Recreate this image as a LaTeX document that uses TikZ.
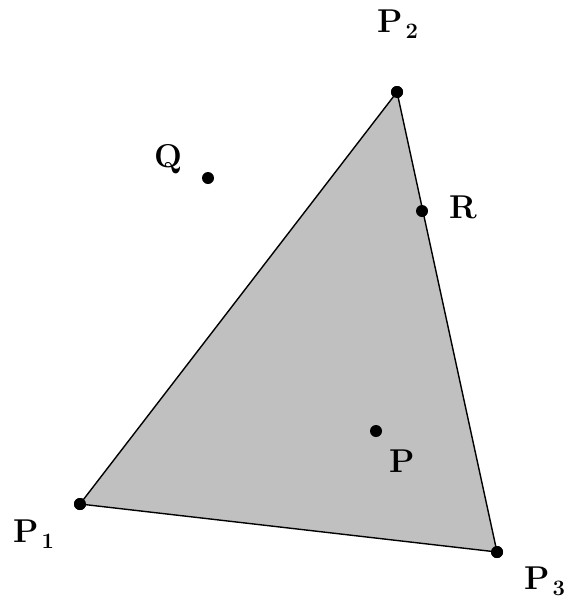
\documentclass[tikz,border=0pt]{standalone}
\usepackage{fontspec}
\setmainfont{Latin Modern Roman}
\newcommand{\subdig}[1]{\hspace{3pt}\raisebox{-6pt}{\fontsize{22}{22}\selectfont #1}}
\begin{document}
\begin{tikzpicture}[x=1pt,y=-1pt,
  pt/.style={circle,fill=black,inner sep=0pt,minimum size=12pt},
  lbl/.style={font=\fontsize{33}{36}\selectfont\bfseries,inner sep=0pt,anchor=base west}]
\useasboundingbox (0,0) rectangle (566,600);
\node[pt] (p1) at (80,504) {};
\node[pt] (p2) at (397,92) {};
\node[pt] (p3) at (497,552) {};
\fill[fill={rgb,255:red,192;green,192;blue,192}] (p1.center) -- (p2.center) -- (p3.center) -- cycle;
\draw[line width=1.4pt] (p1.center) -- (p2.center) -- (p3.center) -- cycle;
\node[pt] at (p1) {};
\node[pt] at (p2) {};
\node[pt] at (p3) {};
\node[pt] (q) at (208,178) {};
\node[pt] (r) at (422,211) {};
\node[pt] (p) at (376,431) {};
\node[lbl] (lp1) at (13,542) {P\subdig{1}};
\node[lbl] (lp2) at (377,32) {P\subdig{2}};
\node[lbl] (lp3) at (524,589) {P\subdig{3}};
\node[lbl] (lq) at (154,167) {Q};
\node[lbl] (lr) at (449,218) {R};
\node[lbl] (lp) at (389,472) {P};
\end{tikzpicture}
\end{document}
